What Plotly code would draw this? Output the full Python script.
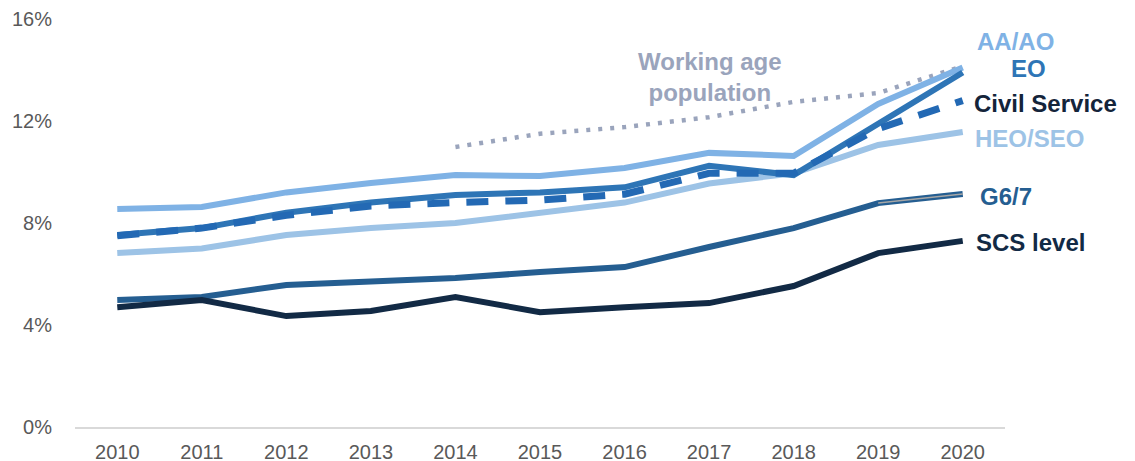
import plotly.graph_objects as go

years = [2010, 2011, 2012, 2013, 2014, 2015, 2016, 2017, 2018, 2019, 2020]
aa_ao = [8.55, 8.63, 9.2, 9.57, 9.88, 9.84, 10.16, 10.75, 10.63, 12.67, 14.1]
eo = [7.53, 7.8, 8.4, 8.8, 9.1, 9.2, 9.4, 10.24, 9.88, 11.9, 13.9]
civil_service = [7.5, 7.8, 8.3, 8.67, 8.8, 8.9, 9.13, 9.95, 9.95, 11.7, 12.8]
heo_seo = [6.82, 7.0, 7.53, 7.8, 8.0, 8.4, 8.8, 9.55, 9.95, 11.06, 11.57]
g6_7 = [4.98, 5.1, 5.57, 5.69, 5.84, 6.08, 6.27, 7.06, 7.8, 8.78, 9.14]
scs = [4.7, 4.98, 4.35, 4.55, 5.1, 4.5, 4.7, 4.86, 5.53, 6.82, 7.3]
wap_years = [2014, 2015, 2016, 2017, 2018, 2019, 2020]
wap = [10.98, 11.5, 11.76, 12.15, 12.75, 13.1, 14.15]

y_ticks = [0, 4, 8, 12, 16]
y_tick_text = ["0%", "4%", "8%", "12%", "16%"]

C_AA = "#7FB2E5"
C_EO = "#2E75B6"
C_CS = "#2369B4"
C_HEO = "#9DC3E6"
C_G6 = "#255E91"
C_SCS = "#122A45"
C_WAP = "#9AA4BC"
C_CS_LABEL = "#14243A"

fig = go.Figure()

def add_line(x, y, color, width=6, dash="solid"):
    fig.add_trace(go.Scatter(x=x, y=y, mode="lines",
                             line=dict(color=color, width=width, dash=dash),
                             hoverinfo="skip", showlegend=False))

add_line(wap_years, wap, C_WAP, width=4.5, dash="4px,8px")
add_line(years, aa_ao, C_AA)
add_line(years, heo_seo, C_HEO)
add_line(years, eo, C_EO)
add_line(years, g6_7, C_G6)
add_line(years, scs, C_SCS)
add_line(years, civil_service, C_CS, width=7, dash="22px,17px")
# thin grey leader on G6/7 end segment
add_line(years[-2:], g6_7[-2:], "#A6A6A6", width=1.5)

FONT = "Liberation Sans, Arial, sans-serif"

labels = [
    ("AA/AO", 0.968, 0.944, C_AA),
    ("EO", 1.004, 0.878, C_EO),
    ("Civil Service", 0.965, 0.794, C_CS_LABEL),
    ("HEO/SEO", 0.966, 0.706, C_HEO),
    ("G6/7", 0.971, 0.564, C_G6),
    ("SCS level", 0.967, 0.453, C_SCS),
]
for text, x, y, c in labels:
    fig.add_annotation(x=x, y=y, xref="paper", yref="paper",
                       text="<b>%s</b>" % text, showarrow=False,
                       xanchor="left", yanchor="middle",
                       font=dict(family=FONT, size=24, color=c))

fig.add_annotation(x=0.683, y=0.858, xref="paper", yref="paper",
                   text="<b>Working age<br>population</b>",
                   showarrow=False, xanchor="center", yanchor="middle",
                   align="center",
                   font=dict(family=FONT, size=24, color=C_WAP))

fig.update_layout(
    width=1127, height=453,
    margin=dict(l=67, r=130, t=11, b=34, autoexpand=False),
    paper_bgcolor="white", plot_bgcolor="white",
    showlegend=False,
    xaxis=dict(range=[2009.5, 2020.5], tickvals=years,
               ticktext=[str(v) for v in years],
               showgrid=False, zeroline=False, automargin=False,
               showline=True, linecolor="#D9D9D9", linewidth=2,
               ticks="outside", ticklen=6, tickcolor="rgba(0,0,0,0)",
               ticklabeloverflow="allow",
               tickfont=dict(family=FONT, size=20, color="#595959"),
               fixedrange=True),
    yaxis=dict(range=[0, 16], tickvals=y_ticks, ticktext=y_tick_text,
               showgrid=False, zeroline=False, showline=False, automargin=False,
               ticks="outside", ticklen=18, tickcolor="rgba(0,0,0,0)",
               ticklabeloverflow="allow",
               tickfont=dict(family=FONT, size=20, color="#595959"),
               fixedrange=True),
)

fig.write_html("out.html")
